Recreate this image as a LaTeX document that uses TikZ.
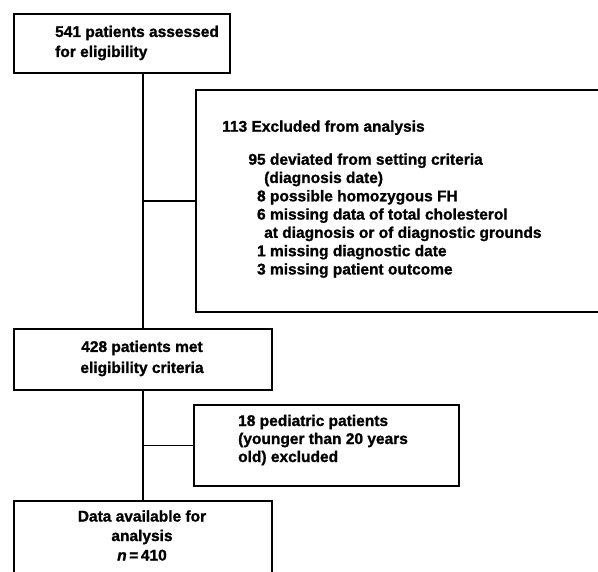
\documentclass[tikz,border=0pt]{standalone}
\usepackage{fontspec}
\setmainfont[BoldFeatures={FakeBold=1.2},BoldItalicFeatures={FakeBold=1.2}]{Liberation Sans}
\newcommand\exitem[1]{\hspace*{26pt}\makebox[17.5pt][r]{#1}\ }
\newcommand\excont{\hspace*{42pt}}
\begin{document}
\begin{tikzpicture}[x=1pt,y=-1pt,
  box/.style={draw, line width=1.8pt, inner sep=0pt, anchor=north west},
  conn/.style={line width=1.4pt},
  txt/.style={inner sep=0pt, font=\bfseries\fontsize{15.5}{#1}\selectfont},
  txt/.default=18.3]
\useasboundingbox (0,0) rectangle (598,572);
% boxes
\node[box, minimum width=216pt, minimum height=59pt] (b1) at (13,13) {};
\node[box, minimum width=420pt, minimum height=222pt] (b2) at (195,89) {};
\node[box, minimum width=258pt, minimum height=61pt] (b3) at (13,328) {};
\node[box, minimum width=265pt, minimum height=81pt] (b4) at (193,404) {};
\node[box, minimum width=258pt, minimum height=110pt] (b5) at (13,500) {};
% texts
\node[txt=20, align=left, anchor=west] (t1) at (55,43) {541 patients assessed\\for eligibility};
\node[txt, align=left, anchor=base west] (t2) at (222,274.5) {113 Excluded from analysis\\[14.7pt]
\exitem{95}deviated from setting criteria\\
\excont(diagnosis date)\\
\exitem{8}possible homozygous FH\\
\exitem{6}missing data of total cholesterol\\
\excont at diagnosis or of diagnostic grounds\\
\exitem{1}missing diagnostic date\\
\exitem{3}missing patient outcome};
\node[txt=21, align=center] (t3) at (142,358.5) {428 patients met\\eligibility criteria};
\node[txt=18, align=left, anchor=west] (t4) at (238,440) {18 pediatric patients\\(younger than 20 years\\old) excluded};
\node[txt=19.5, align=center] (t5) at (142,535.5) {Data available for\\analysis\\\textit{n}\,=\,410};
% connectors
\coordinate (trunk) at (143,0);
\draw[conn] (b1.south -| trunk) -- (b3.north -| trunk);
\draw[conn] (trunk |- b2.west) -- (b2.west);
\draw[conn] (b3.south -| trunk) -- (b5.north -| trunk);
\draw[conn] (trunk |- b4.west) -- (b4.west);
\end{tikzpicture}
\end{document}
